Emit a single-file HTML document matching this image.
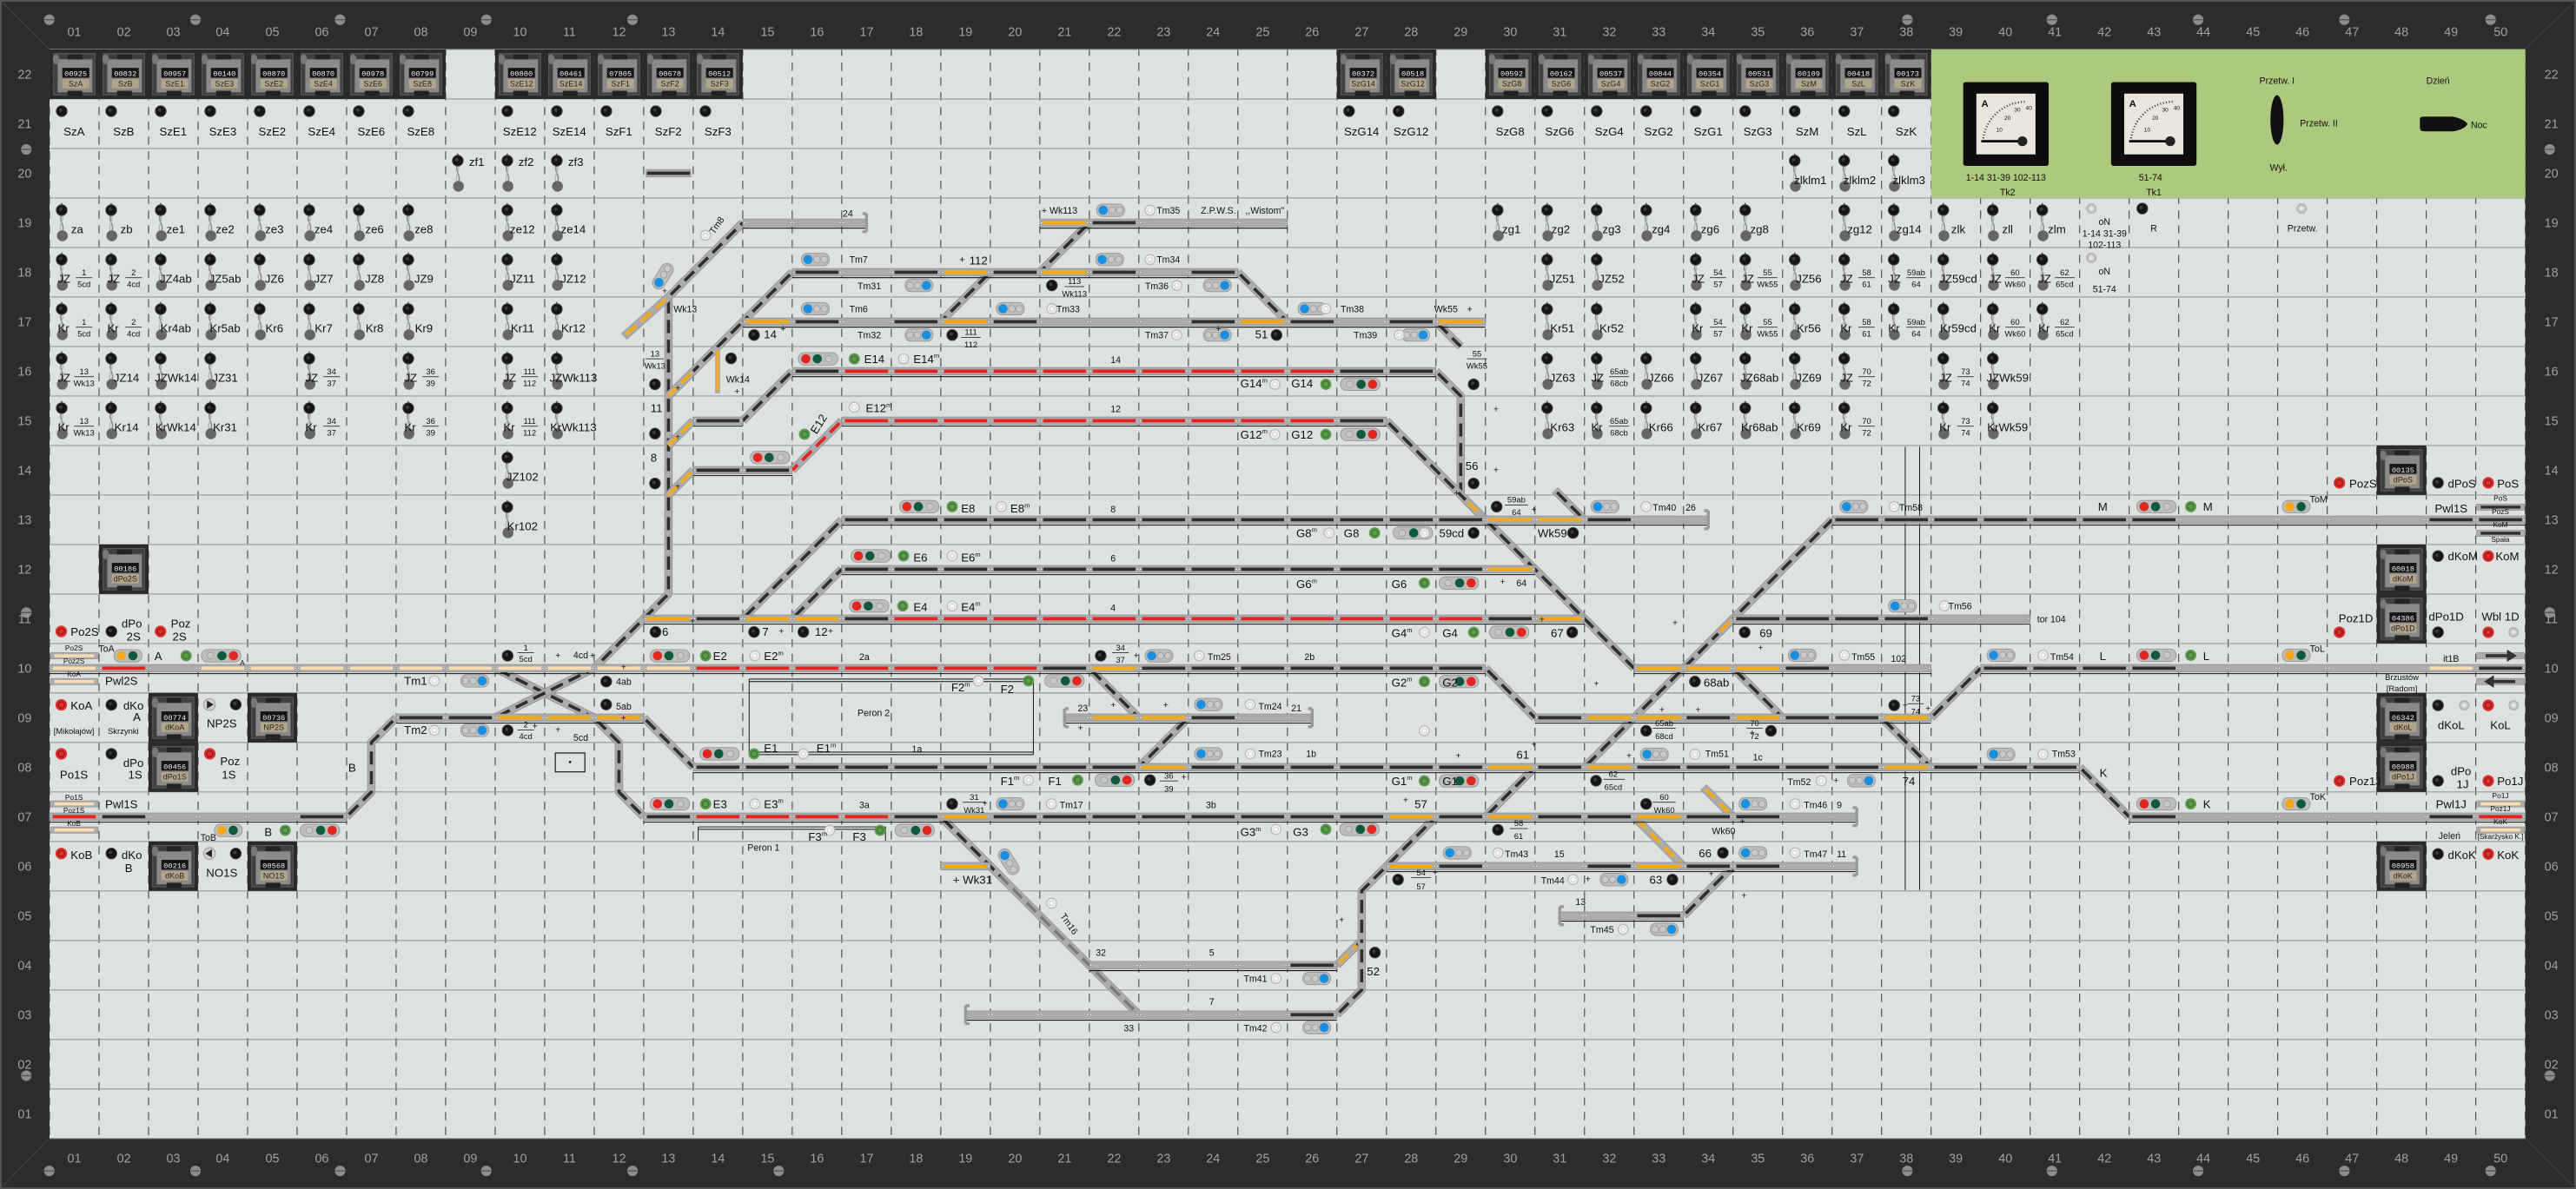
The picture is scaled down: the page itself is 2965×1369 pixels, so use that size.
<!DOCTYPE html>
<html><head><meta charset="utf-8">
<style>
html,body{margin:0;padding:0;background:#2d2d2d;}
svg{display:block}
text{font-family:"Liberation Sans",sans-serif;fill:#111;}
.c{text-anchor:middle}
.n{font-size:7.6px;fill:#a0a0a0;text-anchor:middle}
.dg{font-family:"Liberation Mono",monospace;font-size:4.6px;fill:#eee;text-anchor:middle}
.cl{font-size:4.8px;fill:#222;text-anchor:middle}
.t{font-size:7px}
.s{font-size:5.6px}
.f{font-size:5px;text-anchor:middle}
.x{font-size:4.4px;text-anchor:middle}
</style></head><body>
<svg id="s" width="2965" height="1369" viewBox="0 0 1568 724" preserveAspectRatio="none" xmlns="http://www.w3.org/2000/svg">
<rect width="1568" height="724" fill="#2c2c2c"/>
<rect x="0.5" y="0.5" width="1567" height="723" fill="none" stroke="#555" stroke-width="1"/>
<line x1="2" y1="2" x2="30" y2="30" stroke="#3d3d3d" stroke-width="0.8"/>
<line x1="1566" y1="2" x2="1537" y2="30" stroke="#3d3d3d" stroke-width="0.8"/>
<line x1="2" y1="722" x2="30" y2="693" stroke="#3d3d3d" stroke-width="0.8"/>
<line x1="1566" y1="722" x2="1537" y2="693" stroke="#3d3d3d" stroke-width="0.8"/>
<rect x="30.14" y="30.14" width="1507" height="663.1" fill="#dde1e0"/>
<g id="grid"></g>
<rect x="1175.46" y="30.14" width="361.7" height="90.42" fill="#adc97e"/>
<g id="trk"></g>
<g id="obj"></g>

<text class="n" y="22"><tspan x="45.2">01</tspan><tspan x="75.4">02</tspan><tspan x="105.5">03</tspan><tspan x="135.6">04</tspan><tspan x="165.8">05</tspan><tspan x="195.9">06</tspan><tspan x="226.1">07</tspan><tspan x="256.2">08</tspan><tspan x="286.3">09</tspan><tspan x="316.5">10</tspan><tspan x="346.6">11</tspan><tspan x="376.8">12</tspan><tspan x="406.9">13</tspan><tspan x="437">14</tspan><tspan x="467.2">15</tspan><tspan x="497.3">16</tspan><tspan x="527.5">17</tspan><tspan x="557.6">18</tspan><tspan x="587.7">19</tspan><tspan x="617.9">20</tspan><tspan x="648">21</tspan><tspan x="678.2">22</tspan><tspan x="708.3">23</tspan><tspan x="738.4">24</tspan><tspan x="768.6">25</tspan><tspan x="798.7">26</tspan><tspan x="828.9">27</tspan><tspan x="859">28</tspan><tspan x="889.1">29</tspan><tspan x="919.3">30</tspan><tspan x="949.4">31</tspan><tspan x="979.6">32</tspan><tspan x="1009.7">33</tspan><tspan x="1039.8">34</tspan><tspan x="1070">35</tspan><tspan x="1100.1">36</tspan><tspan x="1130.3">37</tspan><tspan x="1160.4">38</tspan><tspan x="1190.5">39</tspan><tspan x="1220.7">40</tspan><tspan x="1250.8">41</tspan><tspan x="1281">42</tspan><tspan x="1311.1">43</tspan><tspan x="1341.2">44</tspan><tspan x="1371.4">45</tspan><tspan x="1401.5">46</tspan><tspan x="1431.7">47</tspan><tspan x="1461.8">48</tspan><tspan x="1491.9">49</tspan><tspan x="1522.1">50</tspan></text>
<text class="n" y="708"><tspan x="45.2">01</tspan><tspan x="75.4">02</tspan><tspan x="105.5">03</tspan><tspan x="135.6">04</tspan><tspan x="165.8">05</tspan><tspan x="195.9">06</tspan><tspan x="226.1">07</tspan><tspan x="256.2">08</tspan><tspan x="286.3">09</tspan><tspan x="316.5">10</tspan><tspan x="346.6">11</tspan><tspan x="376.8">12</tspan><tspan x="406.9">13</tspan><tspan x="437">14</tspan><tspan x="467.2">15</tspan><tspan x="497.3">16</tspan><tspan x="527.5">17</tspan><tspan x="557.6">18</tspan><tspan x="587.7">19</tspan><tspan x="617.9">20</tspan><tspan x="648">21</tspan><tspan x="678.2">22</tspan><tspan x="708.3">23</tspan><tspan x="738.4">24</tspan><tspan x="768.6">25</tspan><tspan x="798.7">26</tspan><tspan x="828.9">27</tspan><tspan x="859">28</tspan><tspan x="889.1">29</tspan><tspan x="919.3">30</tspan><tspan x="949.4">31</tspan><tspan x="979.6">32</tspan><tspan x="1009.7">33</tspan><tspan x="1039.8">34</tspan><tspan x="1070">35</tspan><tspan x="1100.1">36</tspan><tspan x="1130.3">37</tspan><tspan x="1160.4">38</tspan><tspan x="1190.5">39</tspan><tspan x="1220.7">40</tspan><tspan x="1250.8">41</tspan><tspan x="1281">42</tspan><tspan x="1311.1">43</tspan><tspan x="1341.2">44</tspan><tspan x="1371.4">45</tspan><tspan x="1401.5">46</tspan><tspan x="1431.7">47</tspan><tspan x="1461.8">48</tspan><tspan x="1491.9">49</tspan><tspan x="1522.1">50</tspan></text>
<text class="n" x="15"><tspan x="15" y="47.9">22</tspan><tspan x="15" y="78">21</tspan><tspan x="15" y="108.2">20</tspan><tspan x="15" y="138.3">19</tspan><tspan x="15" y="168.4">18</tspan><tspan x="15" y="198.6">17</tspan><tspan x="15" y="228.7">16</tspan><tspan x="15" y="258.9">15</tspan><tspan x="15" y="289">14</tspan><tspan x="15" y="319.1">13</tspan><tspan x="15" y="349.3">12</tspan><tspan x="15" y="379.4">11</tspan><tspan x="15" y="409.6">10</tspan><tspan x="15" y="439.7">09</tspan><tspan x="15" y="469.8">08</tspan><tspan x="15" y="500">07</tspan><tspan x="15" y="530.1">06</tspan><tspan x="15" y="560.3">05</tspan><tspan x="15" y="590.4">04</tspan><tspan x="15" y="620.5">03</tspan><tspan x="15" y="650.7">02</tspan><tspan x="15" y="680.8">01</tspan></text>
<text class="n" x="1553"><tspan x="1553" y="47.9">22</tspan><tspan x="1553" y="78">21</tspan><tspan x="1553" y="108.2">20</tspan><tspan x="1553" y="138.3">19</tspan><tspan x="1553" y="168.4">18</tspan><tspan x="1553" y="198.6">17</tspan><tspan x="1553" y="228.7">16</tspan><tspan x="1553" y="258.9">15</tspan><tspan x="1553" y="289">14</tspan><tspan x="1553" y="319.1">13</tspan><tspan x="1553" y="349.3">12</tspan><tspan x="1553" y="379.4">11</tspan><tspan x="1553" y="409.6">10</tspan><tspan x="1553" y="439.7">09</tspan><tspan x="1553" y="469.8">08</tspan><tspan x="1553" y="500">07</tspan><tspan x="1553" y="530.1">06</tspan><tspan x="1553" y="560.3">05</tspan><tspan x="1553" y="590.4">04</tspan><tspan x="1553" y="620.5">03</tspan><tspan x="1553" y="650.7">02</tspan><tspan x="1553" y="680.8">01</tspan></text>

<g id="ctext">
<text class="dg" x="46.1" y="46.4">00925</text><text class="cl" x="46.1" y="52.7">SzA</text>
<text class="dg" x="76.3" y="46.4">00832</text><text class="cl" x="76.3" y="52.7">SzB</text>
<text class="dg" x="106.4" y="46.4">00957</text><text class="cl" x="106.4" y="52.7">SzE1</text>
<text class="dg" x="136.6" y="46.4">00140</text><text class="cl" x="136.6" y="52.7">SzE3</text>
<text class="dg" x="166.7" y="46.4">00870</text><text class="cl" x="166.7" y="52.7">SzE2</text>
<text class="dg" x="196.8" y="46.4">00870</text><text class="cl" x="196.8" y="52.7">SzE4</text>
<text class="dg" x="227" y="46.4">00978</text><text class="cl" x="227" y="52.7">SzE6</text>
<text class="dg" x="257.1" y="46.4">00799</text><text class="cl" x="257.1" y="52.7">SzE8</text>
<text class="dg" x="317.4" y="46.4">00800</text><text class="cl" x="317.4" y="52.7">SzE12</text>
<text class="dg" x="347.5" y="46.4">00461</text><text class="cl" x="347.5" y="52.7">SzE14</text>
<text class="dg" x="377.7" y="46.4">07805</text><text class="cl" x="377.7" y="52.7">SzF1</text>
<text class="dg" x="407.8" y="46.4">00678</text><text class="cl" x="407.8" y="52.7">SzF2</text>
<text class="dg" x="438" y="46.4">00512</text><text class="cl" x="438" y="52.7">SzF3</text>
<text class="dg" x="829.8" y="46.4">00372</text><text class="cl" x="829.8" y="52.7">SzG14</text>
<text class="dg" x="859.9" y="46.4">00518</text><text class="cl" x="859.9" y="52.7">SzG12</text>
<text class="dg" x="920.2" y="46.4">00592</text><text class="cl" x="920.2" y="52.7">SzG8</text>
<text class="dg" x="950.3" y="46.4">00162</text><text class="cl" x="950.3" y="52.7">SzG6</text>
<text class="dg" x="980.5" y="46.4">00537</text><text class="cl" x="980.5" y="52.7">SzG4</text>
<text class="dg" x="1010.6" y="46.4">00844</text><text class="cl" x="1010.6" y="52.7">SzG2</text>
<text class="dg" x="1040.8" y="46.4">00354</text><text class="cl" x="1040.8" y="52.7">SzG1</text>
<text class="dg" x="1070.9" y="46.4">00531</text><text class="cl" x="1070.9" y="52.7">SzG3</text>
<text class="dg" x="1101" y="46.4">00109</text><text class="cl" x="1101" y="52.7">SzM</text>
<text class="dg" x="1131.2" y="46.4">00418</text><text class="cl" x="1131.2" y="52.7">SzL</text>
<text class="dg" x="1161.3" y="46.4">00173</text><text class="cl" x="1161.3" y="52.7">SzK</text>
<text class="dg" x="76.3" y="347.8">00186</text><text class="cl" x="76.3" y="354.1">dPo2S</text>
<text class="dg" x="106.4" y="438.3">00774</text><text class="cl" x="106.4" y="444.6">dKoA</text>
<text class="dg" x="166.7" y="438.3">00736</text><text class="cl" x="166.7" y="444.6">NP2S</text>
<text class="dg" x="106.4" y="468.4">00456</text><text class="cl" x="106.4" y="474.7">dPo1S</text>
<text class="dg" x="106.4" y="528.7">00216</text><text class="cl" x="106.4" y="535">dKoB</text>
<text class="dg" x="166.7" y="528.7">00568</text><text class="cl" x="166.7" y="535">NO1S</text>
<text class="dg" x="1462.7" y="287.6">00135</text><text class="cl" x="1462.7" y="293.9">dPoS</text>
<text class="dg" x="1462.7" y="347.8">00018</text><text class="cl" x="1462.7" y="354.1">dKoM</text>
<text class="dg" x="1462.7" y="378">04386</text><text class="cl" x="1462.7" y="384.3">dPo1D</text>
<text class="dg" x="1462.7" y="438.3">06342</text><text class="cl" x="1462.7" y="444.6">dKoL</text>
<text class="dg" x="1462.7" y="468.4">00988</text><text class="cl" x="1462.7" y="474.7">dPo1J</text>
<text class="dg" x="1462.7" y="528.7">00958</text><text class="cl" x="1462.7" y="535">dKoK</text>
</g>

<g class="t">
<text class="c" y="82.5"><tspan x="45.1">SzA</tspan><tspan x="75.3">SzB</tspan><tspan x="105.4">SzE1</tspan><tspan x="135.6">SzE3</tspan><tspan x="165.7">SzE2</tspan><tspan x="195.8">SzE4</tspan><tspan x="226">SzE6</tspan><tspan x="256.1">SzE8</tspan><tspan x="316.4">SzE12</tspan><tspan x="346.5">SzE14</tspan><tspan x="376.7">SzF1</tspan><tspan x="406.8">SzF2</tspan><tspan x="437">SzF3</tspan><tspan x="828.8">SzG14</tspan><tspan x="858.9">SzG12</tspan><tspan x="919.2">SzG8</tspan><tspan x="949.3">SzG6</tspan><tspan x="979.5">SzG4</tspan><tspan x="1009.6">SzG2</tspan><tspan x="1039.8">SzG1</tspan><tspan x="1069.9">SzG3</tspan><tspan x="1100">SzM</tspan><tspan x="1130.2">SzL</tspan><tspan x="1160.3">SzK</tspan></text>
<text y="101"><tspan x="285.5">zf1</tspan><tspan x="315.6">zf2</tspan><tspan x="345.8">zf3</tspan></text>
<text class="c" y="112"><tspan x="1102">zlklm1</tspan><tspan x="1132">zlklm2</tspan><tspan x="1162">zlklm3</tspan></text>
<text class="c" y="142"><tspan x="47">za</tspan><tspan x="77">zb</tspan><tspan x="107">ze1</tspan><tspan x="137">ze2</tspan><tspan x="167">ze3</tspan><tspan x="197">ze4</tspan><tspan x="228">ze6</tspan><tspan x="258">ze8</tspan><tspan x="318">ze12</tspan><tspan x="349">ze14</tspan><tspan x="920">zg1</tspan><tspan x="950">zg2</tspan><tspan x="981">zg3</tspan><tspan x="1011">zg4</tspan><tspan x="1041">zg6</tspan><tspan x="1071">zg8</tspan><tspan x="1132">zg12</tspan><tspan x="1162">zg14</tspan><tspan x="1192">zlk</tspan><tspan x="1222">zll</tspan><tspan x="1252">zlm</tspan></text>
<text class="c" y="172.2"><tspan x="107">JZ4ab</tspan><tspan x="137">JZ5ab</tspan><tspan x="167">JZ6</tspan><tspan x="197">JZ7</tspan><tspan x="228">JZ8</tspan><tspan x="258">JZ9</tspan><tspan x="318">JZ11</tspan><tspan x="349">JZ12</tspan><tspan x="951">JZ51</tspan><tspan x="981">JZ52</tspan><tspan x="1101">JZ56</tspan><tspan x="1192">JZ59cd</tspan></text>
<text class="c" y="202.3"><tspan x="107">Kr4ab</tspan><tspan x="137">Kr5ab</tspan><tspan x="167">Kr6</tspan><tspan x="197">Kr7</tspan><tspan x="228">Kr8</tspan><tspan x="258">Kr9</tspan><tspan x="318">Kr11</tspan><tspan x="349">Kr12</tspan><tspan x="951">Kr51</tspan><tspan x="981">Kr52</tspan><tspan x="1101">Kr56</tspan><tspan x="1192">Kr59cd</tspan></text>
<text class="c" y="232.5"><tspan x="77">JZ14</tspan><tspan x="107">JZWk14</tspan><tspan x="137">JZ31</tspan><tspan x="349">JZWk113</tspan><tspan x="951">JZ63</tspan><tspan x="1011">JZ66</tspan><tspan x="1041">JZ67</tspan><tspan x="1071">JZ68ab</tspan><tspan x="1101">JZ69</tspan><tspan x="1222">JZWk59</tspan></text>
<text class="c" y="262.6"><tspan x="77">Kr14</tspan><tspan x="107">KrWk14</tspan><tspan x="137">Kr31</tspan><tspan x="349">KrWk113</tspan><tspan x="951">Kr63</tspan><tspan x="1011">Kr66</tspan><tspan x="1041">Kr67</tspan><tspan x="1071">Kr68ab</tspan><tspan x="1101">Kr69</tspan><tspan x="1222">KrWk59</tspan></text>
<text class="c" y="292.8" x="318">JZ102</text>
<text class="c" y="322.9" x="318">Kr102</text>
</g>
<g class="t">
<g transform="translate(30.14,150.7)"><text x="5" y="21.5">JZ</text><text class="f" x="21" y="17">1</text><line x1="16" y1="18.4" x2="26" y2="18.4" stroke="#111" stroke-width=".4"/><text class="f" x="21" y="24">5cd</text></g>
<g transform="translate(60.28,150.7)"><text x="5" y="21.5">JZ</text><text class="f" x="21" y="17">2</text><line x1="16" y1="18.4" x2="26" y2="18.4" stroke="#111" stroke-width=".4"/><text class="f" x="21" y="24">4cd</text></g>
<g transform="translate(30.14,180.84)"><text x="5" y="21.5">Kr</text><text class="f" x="21" y="17">1</text><line x1="16" y1="18.4" x2="26" y2="18.4" stroke="#111" stroke-width=".4"/><text class="f" x="21" y="24">5cd</text></g>
<g transform="translate(60.28,180.84)"><text x="5" y="21.5">Kr</text><text class="f" x="21" y="17">2</text><line x1="16" y1="18.4" x2="26" y2="18.4" stroke="#111" stroke-width=".4"/><text class="f" x="21" y="24">4cd</text></g>
<g transform="translate(30.14,210.98)"><text x="5" y="21.5">JZ</text><text class="f" x="21" y="17">13</text><line x1="15" y1="18.4" x2="27" y2="18.4" stroke="#111" stroke-width=".4"/><text class="f" x="21" y="24">Wk13</text></g>
<g transform="translate(30.14,241.12)"><text x="5" y="21.5">Kr</text><text class="f" x="21" y="17">13</text><line x1="15" y1="18.4" x2="27" y2="18.4" stroke="#111" stroke-width=".4"/><text class="f" x="21" y="24">Wk13</text></g>
<g transform="translate(180.84,210.98)"><text x="5" y="21.5">JZ</text><text class="f" x="21" y="17">34</text><line x1="16" y1="18.4" x2="26" y2="18.4" stroke="#111" stroke-width=".4"/><text class="f" x="21" y="24">37</text></g>
<g transform="translate(180.84,241.12)"><text x="5" y="21.5">Kr</text><text class="f" x="21" y="17">34</text><line x1="16" y1="18.4" x2="26" y2="18.4" stroke="#111" stroke-width=".4"/><text class="f" x="21" y="24">37</text></g>
<g transform="translate(241.12,210.98)"><text x="5" y="21.5">JZ</text><text class="f" x="21" y="17">36</text><line x1="16" y1="18.4" x2="26" y2="18.4" stroke="#111" stroke-width=".4"/><text class="f" x="21" y="24">39</text></g>
<g transform="translate(241.12,241.12)"><text x="5" y="21.5">Kr</text><text class="f" x="21" y="17">36</text><line x1="16" y1="18.4" x2="26" y2="18.4" stroke="#111" stroke-width=".4"/><text class="f" x="21" y="24">39</text></g>
<g transform="translate(301.4,210.98)"><text x="5" y="21.5">JZ</text><text class="f" x="21" y="17">111</text><line x1="16" y1="18.4" x2="26" y2="18.4" stroke="#111" stroke-width=".4"/><text class="f" x="21" y="24">112</text></g>
<g transform="translate(301.4,241.12)"><text x="5" y="21.5">Kr</text><text class="f" x="21" y="17">111</text><line x1="16" y1="18.4" x2="26" y2="18.4" stroke="#111" stroke-width=".4"/><text class="f" x="21" y="24">112</text></g>
<g transform="translate(1024.76,150.7)"><text x="5" y="21.5">JZ</text><text class="f" x="21" y="17">54</text><line x1="16" y1="18.4" x2="26" y2="18.4" stroke="#111" stroke-width=".4"/><text class="f" x="21" y="24">57</text></g>
<g transform="translate(1024.76,180.84)"><text x="5" y="21.5">Kr</text><text class="f" x="21" y="17">54</text><line x1="16" y1="18.4" x2="26" y2="18.4" stroke="#111" stroke-width=".4"/><text class="f" x="21" y="24">57</text></g>
<g transform="translate(1054.9,150.7)"><text x="5" y="21.5">JZ</text><text class="f" x="21" y="17">55</text><line x1="15" y1="18.4" x2="27" y2="18.4" stroke="#111" stroke-width=".4"/><text class="f" x="21" y="24">Wk55</text></g>
<g transform="translate(1054.9,180.84)"><text x="5" y="21.5">Kr</text><text class="f" x="21" y="17">55</text><line x1="15" y1="18.4" x2="27" y2="18.4" stroke="#111" stroke-width=".4"/><text class="f" x="21" y="24">Wk55</text></g>
<g transform="translate(1115.18,150.7)"><text x="5" y="21.5">JZ</text><text class="f" x="21" y="17">58</text><line x1="16" y1="18.4" x2="26" y2="18.4" stroke="#111" stroke-width=".4"/><text class="f" x="21" y="24">61</text></g>
<g transform="translate(1115.18,180.84)"><text x="5" y="21.5">Kr</text><text class="f" x="21" y="17">58</text><line x1="16" y1="18.4" x2="26" y2="18.4" stroke="#111" stroke-width=".4"/><text class="f" x="21" y="24">61</text></g>
<g transform="translate(1145.32,150.7)"><text x="4" y="21.5">JZ</text><text class="f" x="21" y="17">59ab</text><line x1="15" y1="18.4" x2="27" y2="18.4" stroke="#111" stroke-width=".4"/><text class="f" x="21" y="24">64</text></g>
<g transform="translate(1145.32,180.84)"><text x="4" y="21.5">Kr</text><text class="f" x="21" y="17">59ab</text><line x1="15" y1="18.4" x2="27" y2="18.4" stroke="#111" stroke-width=".4"/><text class="f" x="21" y="24">64</text></g>
<g transform="translate(1205.6,150.7)"><text x="5" y="21.5">JZ</text><text class="f" x="21" y="17">60</text><line x1="15" y1="18.4" x2="27" y2="18.4" stroke="#111" stroke-width=".4"/><text class="f" x="21" y="24">Wk60</text></g>
<g transform="translate(1205.6,180.84)"><text x="5" y="21.5">Kr</text><text class="f" x="21" y="17">60</text><line x1="15" y1="18.4" x2="27" y2="18.4" stroke="#111" stroke-width=".4"/><text class="f" x="21" y="24">Wk60</text></g>
<g transform="translate(1235.74,150.7)"><text x="5" y="21.5">JZ</text><text class="f" x="21" y="17">62</text><line x1="15" y1="18.4" x2="27" y2="18.4" stroke="#111" stroke-width=".4"/><text class="f" x="21" y="24">65cd</text></g>
<g transform="translate(1235.74,180.84)"><text x="5" y="21.5">Kr</text><text class="f" x="21" y="17">62</text><line x1="15" y1="18.4" x2="27" y2="18.4" stroke="#111" stroke-width=".4"/><text class="f" x="21" y="24">65cd</text></g>
<g transform="translate(964.48,210.98)"><text x="4" y="21.5">JZ</text><text class="f" x="21" y="17">65ab</text><line x1="15" y1="18.4" x2="27" y2="18.4" stroke="#111" stroke-width=".4"/><text class="f" x="21" y="24">68cb</text></g>
<g transform="translate(964.48,241.12)"><text x="4" y="21.5">Kr</text><text class="f" x="21" y="17">65ab</text><line x1="15" y1="18.4" x2="27" y2="18.4" stroke="#111" stroke-width=".4"/><text class="f" x="21" y="24">68cb</text></g>
<g transform="translate(1115.18,210.98)"><text x="5" y="21.5">JZ</text><text class="f" x="21" y="17">70</text><line x1="16" y1="18.4" x2="26" y2="18.4" stroke="#111" stroke-width=".4"/><text class="f" x="21" y="24">72</text></g>
<g transform="translate(1115.18,241.12)"><text x="5" y="21.5">Kr</text><text class="f" x="21" y="17">70</text><line x1="16" y1="18.4" x2="26" y2="18.4" stroke="#111" stroke-width=".4"/><text class="f" x="21" y="24">72</text></g>
<g transform="translate(1175.46,210.98)"><text x="5" y="21.5">JZ</text><text class="f" x="21" y="17">73</text><line x1="16" y1="18.4" x2="26" y2="18.4" stroke="#111" stroke-width=".4"/><text class="f" x="21" y="24">74</text></g>
<g transform="translate(1175.46,241.12)"><text x="5" y="21.5">Kr</text><text class="f" x="21" y="17">73</text><line x1="16" y1="18.4" x2="26" y2="18.4" stroke="#111" stroke-width=".4"/><text class="f" x="21" y="24">74</text></g>
</g>
<g class="s">
<text class="c" x="1281" y="137">oN</text><text class="c" x="1281" y="144">1-14  31-39</text><text class="c" x="1281" y="151">102-113</text>
<text class="c" x="1281" y="167">oN</text><text class="c" x="1281" y="178">51-74</text>
<text class="c" x="1311" y="141">R</text>
<text class="c" x="1401.5" y="141">Przetw.</text>
</g>
<g>
<rect x="1195" y="50" width="52" height="51" rx="1.5" fill="#0d0d0d"/>
<rect x="1203" y="57" width="36" height="37" fill="#e9e5dc"/>
<rect x="1285" y="50" width="52" height="51" rx="1.5" fill="#0d0d0d"/>
<rect x="1293" y="57" width="36" height="37" fill="#e9e5dc"/>
<path d="M1207 86 A 26 26 0 0 1 1233 62" fill="none" stroke="#222" stroke-width="1.2" stroke-dasharray=".5 1.3"/>
<path d="M1297 86 A 26 26 0 0 1 1323 62" fill="none" stroke="#222" stroke-width="1.2" stroke-dasharray=".5 1.3"/>
<line x1="1206" y1="86" x2="1230" y2="86" stroke="#000" stroke-width="1.5"/><circle cx="1231" cy="86" r="3" fill="#222"/>
<line x1="1296" y1="86" x2="1320" y2="86" stroke="#000" stroke-width="1.5"/><circle cx="1321" cy="86" r="3" fill="#222"/>
<text x="1206" y="65" font-size="6" font-weight="bold">A</text><text x="1296" y="65" font-size="6" font-weight="bold">A</text>
<text x="1215" y="80" font-size="3.5">10</text><text x="1220" y="73" font-size="3.5">20</text><text x="1226" y="68" font-size="3.5">30</text><text x="1233" y="67" font-size="3.5">40</text>
<text x="1305" y="80" font-size="3.5">10</text><text x="1310" y="73" font-size="3.5">20</text><text x="1316" y="68" font-size="3.5">30</text><text x="1323" y="67" font-size="3.5">40</text>
<text class="s c" x="1221" y="110">1-14  31-39  102-113</text>
<text class="s c" x="1222" y="119">Tk2</text>
<text class="s c" x="1309" y="110">51-74</text>
<text class="s c" x="1311" y="119">Tk1</text>
<text class="s c" x="1386" y="51">Przetw. I</text>
<ellipse cx="1386" cy="73" rx="4" ry="15" fill="#111"/>
<text class="s" x="1400" y="77">Przetw. II</text>
<text class="s c" x="1387" y="104">Wył.</text>
<text class="s c" x="1484" y="51">Dzień</text>
<path d="M1473 72 Q1473 71 1476 71 L1493 71 Q1500 72.5 1502 75.5 Q1500 79 1493 80 L1476 80 Q1473 80 1473 78 Z" fill="#111"/>
<text class="s" x="1504" y="78">Noc</text>
</g>

<g class="s">
<text x="430" y="138" transform="rotate(-55 437 136)">Tm8</text>
<text x="513" y="132">24</text>
<text x="634" y="130">+ Wk113</text><text x="704" y="130">Tm35</text><text x="731" y="130">Z.P.W.S.</text><text x="758" y="130">,,Wistom"</text>
<text x="517" y="160">Tm7</text><text x="584" y="160">+</text><text x="590" y="161" class="t">112</text><text x="704" y="160">Tm34</text>
<text x="522" y="176">Tm31</text><text x="697" y="176">Tm36</text>
<text class="f" x="654" y="173">113</text><line x1="648" y1="174.5" x2="660" y2="174.5" stroke="#111" stroke-width=".4"/><text class="f" x="654" y="180.5">Wk113</text>
<text x="517" y="190">Tm6</text><text x="643" y="190">Tm33</text><text x="816" y="190">Tm38</text><text x="873" y="190">Wk55</text><text x="893" y="190">+</text>
<text x="410" y="190">Wk13</text>
<text x="465" y="206" class="t">14</text><text x="475" y="202">+</text><text x="522" y="206">Tm32</text><text x="697" y="206">Tm37</text><text x="740" y="202">+</text><text x="764" y="206" class="t">51</text><text x="824" y="206">Tm39</text>
<text class="f" x="591" y="204">111</text><line x1="585" y1="205.5" x2="597" y2="205.5" stroke="#111" stroke-width=".4"/><text class="f" x="591" y="211.5">112</text>
<text class="f" x="398.7" y="217">13</text><line x1="393" y1="218.5" x2="404" y2="218.5" stroke="#111" stroke-width=".4"/><text class="f" x="398.7" y="224.5">Wk13</text>
<text x="442" y="233">Wk14</text>
<text class="f" x="899" y="217">55</text><line x1="893" y1="218.5" x2="905" y2="218.5" stroke="#111" stroke-width=".4"/><text class="f" x="899" y="224.5">Wk55</text>
<text x="526" y="221" class="t">E14</text><text x="556" y="221" class="t">E14<tspan font-size="4" dy="-3">m</tspan></text><text x="676" y="221">14</text>
<text x="755" y="236" class="t">G14<tspan font-size="4" dy="-3">m</tspan></text><text x="786" y="236" class="t">G14</text>
<text x="396" y="251" class="t">11</text>
<text x="527" y="251" class="t">E12<tspan font-size="4" dy="-3">m</tspan></text><text x="676" y="251">12</text>
<text x="490" y="262" class="t" transform="rotate(-58 496 257)">E12</text>
<text x="755" y="267" class="t">G12<tspan font-size="4" dy="-3">m</tspan></text><text x="786" y="267" class="t">G12</text>
<text x="396" y="281" class="t">8</text><text x="892" y="286" class="t">56</text>
<text x="585" y="312" class="t">E8</text><text x="615" y="312" class="t">E8<tspan font-size="4" dy="-3">m</tspan></text><text x="676" y="312">8</text>
<text class="f" x="923" y="306">59ab</text><line x1="916" y1="307.5" x2="930" y2="307.5" stroke="#111" stroke-width=".4"/><text class="f" x="923" y="313.5">64</text>
<text x="1006" y="311">Tm40</text><text x="1026" y="311">26</text><text x="1156" y="311">Tm58</text><text x="1277" y="311" class="t">M</text><text x="1341" y="311" class="t">M</text>
<text x="789" y="327" class="t">G8<tspan font-size="4" dy="-3">m</tspan></text><text x="818" y="327" class="t">G8</text><text x="876" y="327" class="t">59cd</text><text x="936" y="327" class="t">Wk59</text>
<text x="556" y="342" class="t">E6</text><text x="585" y="342" class="t">E6<tspan font-size="4" dy="-3">m</tspan></text><text x="676" y="342">6</text>
<text x="847" y="358" class="t">G6</text><text x="789" y="358" class="t">G6<tspan font-size="4" dy="-3">m</tspan></text><text x="923" y="357">64</text>
<text x="556" y="372" class="t">E4</text><text x="585" y="372" class="t">E4<tspan font-size="4" dy="-3">m</tspan></text><text x="676" y="372">4</text>
<text x="1186" y="371">Tm56</text><text x="1240" y="379">tor 104</text>
<text x="403" y="387" class="t">6</text><text x="464" y="387" class="t">7</text><text x="496" y="387" class="t">12</text>
<text x="847" y="388" class="t">G4<tspan font-size="4" dy="-3">m</tspan></text><text x="878" y="388" class="t">G4</text><text x="944" y="388" class="t">67</text><text x="1071" y="388" class="t">69</text>
<text class="f" x="320" y="396">1</text><line x1="315" y1="397.5" x2="325" y2="397.5" stroke="#111" stroke-width=".4"/><text class="f" x="320" y="403">5cd</text><text x="349" y="401">4cd</text>
<text x="434" y="402" class="t">E2</text><text x="465" y="402" class="t">E2<tspan font-size="4" dy="-3">m</tspan></text><text x="523" y="402">2a</text>
<text class="f" x="682" y="396">34</text><line x1="677" y1="397.5" x2="687" y2="397.5" stroke="#111" stroke-width=".4"/><text class="f" x="682" y="403.5">37</text>
<text x="735" y="402">Tm25</text><text x="794" y="402">2b</text><text x="1127" y="402">Tm55</text><text x="1151" y="403">102</text><text x="1248" y="402">Tm54</text><text x="1278" y="402" class="t">L</text><text x="1341" y="402" class="t">L</text>
<text x="60" y="397">ToA</text><text x="94" y="402" class="t">A</text><text x="146" y="405" font-size="4.4">A</text>
<text x="64" y="417" class="t">Pwl2S</text>
<text x="246" y="417" class="t">Tm1</text><text x="375" y="417">4ab</text><text x="1037" y="418" class="t">68ab</text>
<text x="579" y="421" class="t">F2<tspan font-size="4" dy="-3">m</tspan></text><text x="609" y="422" class="t">F2</text>
<text x="847" y="418" class="t">G2<tspan font-size="4" dy="-3">m</tspan></text><text x="878" y="418" class="t">G2</text>
<text x="375" y="432">5ab</text><text x="656" y="433">23</text><text x="766" y="432">Tm24</text><text x="786" y="433">21</text>
<text class="f" x="1166" y="427">73</text><line x1="1161" y1="428.5" x2="1171" y2="428.5" stroke="#111" stroke-width=".4"/><text class="f" x="1166" y="435">74</text>
<text x="522" y="436">Peron 2</text>
<text x="246" y="447" class="t">Tm2</text>
<text class="f" x="320" y="443">2</text><text x="324" y="444">+</text><line x1="315" y1="444.5" x2="325" y2="444.5" stroke="#111" stroke-width=".4"/><text class="f" x="320" y="450">4cd</text><text x="349" y="451">5cd</text>
<text class="f" x="1013" y="442">65ab</text><line x1="1006" y1="443.5" x2="1020" y2="443.5" stroke="#111" stroke-width=".4"/><text class="f" x="1013" y="450">68cd</text>
<text class="f" x="1068" y="442">70</text><line x1="1063" y1="443.5" x2="1073" y2="443.5" stroke="#111" stroke-width=".4"/><text class="f" x="1068" y="450">72</text>
<text x="465" y="458" class="t">E1</text><text x="497" y="458" class="t">E1<tspan font-size="4" dy="-3">m</tspan></text><text x="555" y="458">1a</text>
<text x="766" y="461">Tm23</text><text x="795" y="461">1b</text><text x="923" y="462" class="t">61</text><text x="1038" y="461">Tm51</text><text x="1067" y="463">1c</text><text x="1249" y="461">Tm53</text>
<text x="212" y="470" class="t">B</text><text x="1278" y="473" class="t">K</text>
<text x="609" y="478" class="t">F1<tspan font-size="4" dy="-3">m</tspan></text><text x="638" y="478" class="t">F1</text>
<text class="f" x="711.5" y="474">36</text><line x1="706" y1="475.5" x2="717" y2="475.5" stroke="#111" stroke-width=".4"/><text class="f" x="711.5" y="482">39</text>
<text x="847" y="478" class="t">G1<tspan font-size="4" dy="-3">m</tspan></text><text x="878" y="478" class="t">G1</text>
<text class="f" x="982" y="473">62</text><line x1="976" y1="474.5" x2="989" y2="474.5" stroke="#111" stroke-width=".4"/><text class="f" x="982" y="481">65cd</text>
<text x="1088" y="478">Tm52</text><text x="1158" y="478" class="t">74</text>
<text x="64" y="492" class="t">Pwl1S</text>
<text x="434" y="492" class="t">E3</text><text x="465" y="492" class="t">E3<tspan font-size="4" dy="-3">m</tspan></text><text x="523" y="492">3a</text>
<text class="f" x="593" y="487">31</text><line x1="586" y1="488.5" x2="600" y2="488.5" stroke="#111" stroke-width=".4"/><text class="f" x="593" y="495">Wk31</text>
<text x="645" y="492">Tm17</text><text x="734" y="492">3b</text><text x="861" y="492" class="t">57</text>
<text class="f" x="1013" y="487">60</text><line x1="1006" y1="488.5" x2="1020" y2="488.5" stroke="#111" stroke-width=".4"/><text class="f" x="1013" y="495">Wk60</text>
<text x="1098" y="492">Tm46</text><text x="1118" y="492">9</text><text x="1341" y="492" class="t">K</text>
<text x="492" y="512" class="t">F3<tspan font-size="4" dy="-3">m</tspan></text><text x="519" y="512" class="t">F3</text>
<text x="755" y="509" class="t">G3<tspan font-size="4" dy="-3">m</tspan></text><text x="787" y="509" class="t">G3</text>
<text class="f" x="924.4" y="503">58</text><line x1="919" y1="504.5" x2="930" y2="504.5" stroke="#111" stroke-width=".4"/><text class="f" x="924.4" y="511">61</text>
<text x="1042" y="508">Wk60</text>
<text x="122" y="512">ToB</text><text x="161" y="509" class="t">B</text>
<text x="455" y="518">Peron 1</text>
<text x="916" y="522">Tm43</text><text x="946" y="522">15</text><text x="1034" y="522" class="t">66</text><text x="1098" y="522">Tm47</text><text x="1118" y="522">11</text>
<text x="580" y="538" class="t">+ Wk31</text>
<text class="f" x="865" y="533">54</text><line x1="859" y1="534.5" x2="871" y2="534.5" stroke="#111" stroke-width=".4"/><text class="f" x="865" y="541.5">57</text>
<text x="938" y="538">Tm44</text><text x="1004" y="538" class="t">63</text>
<text x="959" y="551">13</text><text x="968" y="568">Tm45</text>
<text x="645" y="564" transform="rotate(55 651 561)">Tm16</text>
<text x="667" y="582">32</text><text x="736" y="582">5</text><text x="757" y="598">Tm41</text><text x="832" y="594" class="t">52</text>
<text x="736" y="612">7</text><text x="684" y="628">33</text><text x="757" y="628">Tm42</text>
<text x="43" y="387" class="t">Po2S</text>
<text x="74" y="382" class="t">dPo</text><text x="77" y="390" class="t">2S</text>
<text x="104" y="382" class="t">Poz</text><text x="105" y="390" class="t">2S</text>
<text x="43" y="432" class="t">KoA</text><text x="75" y="432" class="t">dKo</text><text x="81" y="439" class="t">A</text>
<text class="c" x="45" y="447" font-size="5">[Mikołajów]</text><text class="c" x="75" y="447" font-size="5">Skrzynki</text>
<text class="c t" x="135" y="443">NP2S</text>
<text class="c t" x="45" y="474">Po1S</text><text x="75" y="467" class="t">dPo</text><text x="78" y="474" class="t">1S</text>
<text x="134" y="466" class="t">Poz</text><text x="135" y="474" class="t">1S</text>
<text x="43" y="523" class="t">KoB</text><text x="74" y="523" class="t">dKo</text><text x="76" y="531" class="t">B</text>
<text class="c t" x="135" y="534">NO1S</text>
<text class="x" x="45" y="396">Po2S</text><text class="x" x="45" y="404">Poz2S</text><text class="x" x="45" y="412">KoA</text>
<text class="x" x="45" y="487">Po1S</text><text class="x" x="45" y="495">Poz1S</text><text class="x" x="45" y="503">KoB</text>
<text x="1430" y="297" class="t">PozS</text><text x="1490" y="297" class="t">dPoS</text><text x="1520" y="297" class="t">PoS</text>
<text x="1406" y="306">ToM</text><text class="c t" x="1492" y="312">Pwl1S</text>
<text class="x" x="1522" y="305">PoS</text><text class="x" x="1522" y="313">PozS</text><text class="x" x="1522" y="321">KoM</text><text class="x" x="1522" y="330">Spała</text>
<text x="1490" y="341" class="t">dKoM</text><text x="1519" y="341" class="t">KoM</text>
<text class="c t" x="1434" y="379">Poz1D</text><text class="c t" x="1489" y="378">dPo1D</text><text class="c t" x="1522" y="378">Wbl 1D</text>
<text x="1406" y="397">ToL</text><text class="c s" x="1492" y="403">it1B</text>
<text class="c" x="1462" y="414" font-size="5">Brzustów</text><text class="c" x="1462" y="421" font-size="5">[Radom]</text>
<text class="c t" x="1492" y="444">dKoL</text><text class="c t" x="1522" y="444">KoL</text>
<text x="1430" y="478" class="t">Poz1J</text><text class="c t" x="1498" y="472">dPo</text><text class="c t" x="1499" y="480">1J</text><text x="1520" y="478" class="t">Po1J</text>
<text x="1406" y="487">ToK</text><text class="c t" x="1492" y="492">Pwl1J</text>
<text class="x" x="1522" y="486">Po1J</text><text class="x" x="1522" y="494">Poz1J</text><text class="x" x="1522" y="502">KoK</text><text class="x" x="1522" y="511">[Skarżysko K.]</text>
<text class="c s" x="1491" y="511">Jeleń</text>
<text x="1490" y="523" class="t">dKoK</text><text x="1520" y="523" class="t">KoK</text>
</g>
<g font-size="5.5">
<text x="403" y="179">+</text><text x="411" y="238">+</text><text x="411" y="268">+</text><text x="411" y="298">+</text><text x="447" y="240">+</text>
<text x="359" y="401">+</text><text x="338" y="401">+</text><text x="378" y="408">+</text><text x="338" y="446">+</text><text x="378" y="439">+</text>
<text x="474" y="386">+</text><text x="504" y="386">+</text><text x="420" y="380">+</text><text x="690" y="401">+</text><text x="676" y="431">+</text><text x="708" y="431">+</text><text x="656" y="445">+</text>
<text x="719" y="475">+</text><text x="598" y="491">+</text><text x="854" y="489">+</text><text x="872" y="533">+</text><text x="815" y="562">+</text>
<text x="913" y="356">+</text><text x="937" y="379">+</text><text x="932" y="312">+</text><text x="885" y="302">+</text><text x="909" y="251">+</text><text x="909" y="288">+</text>
<text x="1018" y="381">+</text><text x="1070" y="396">+</text><text x="970" y="418">+</text><text x="1032" y="434">+</text><text x="1010" y="434">+</text><text x="1065" y="448">+</text>
<text x="1172" y="433">+</text><text x="932" y="455">+</text><text x="990" y="462">+</text><text x="1059" y="502">+</text><text x="1053" y="532">+</text><text x="1040" y="534">+</text><text x="1060" y="547">+</text>
<text x="886" y="462">+</text><text x="1116" y="477">+</text><text x="1158" y="431">+</text><text x="965" y="537">+</text>
</g>
</svg>
<script>
(function(){
var NS="http://www.w3.org/2000/svg";
function el(p,tag,a){var e=document.createElementNS(NS,tag);for(var k in a)e.setAttribute(k,a[k]);p.appendChild(e);return e;}
var U=30.14,X=function(u){return u*U},Y=function(r){return U*(23.5-r)},TOP=function(r){return U*(23-r)};
var G=document.getElementById('grid'),T=document.getElementById('trk'),O=document.getElementById('obj');
for(var c=1;c<=51;c++)el(G,'line',{x1:X(c),y1:X(1),x2:X(c),y2:X(23),stroke:'#3c3c3c','stroke-width':.55,'stroke-dasharray':'5 4','stroke-dashoffset':1});
for(var r=1;r<=23;r++)el(G,'line',{x1:X(1),y1:X(r),x2:X(51),y2:X(r),stroke:'#9a9a9a','stroke-width':.6});
function sc(x,y){el(G,'circle',{cx:x,cy:y,r:3.2,fill:'#8d8d8d'});el(G,'line',{x1:x-3,y1:y,x2:x+3,y2:y,stroke:'#555','stroke-width':.7});}
[30,119,207,296,385,1161,1249,1338,1427,1516].forEach(function(x){sc(x,12)});
[30,119,207,296,385,474,1161,1249,1338,1427,1516].forEach(function(x){sc(x,713)});
[91,373,655].forEach(function(y){sc(16,y);sc(1552,y);});
[1179,1268,1356,1445,1534].forEach(function(x){sc(x,34);sc(x,117);});
var C={k:'#2e2e2e',r:'#e3211f',o:'#f6a915',w:'#fbdcb5'};
function d(pts,col){var p=pts.map(function(q){return X(q[0]).toFixed(2)+','+Y(q[1]).toFixed(2)}).join(' ');
 el(T,'polyline',{points:p,fill:'none',stroke:'#8e8e8e','stroke-width':5,'stroke-linejoin':'round'});
 el(T,'polyline',{points:p,fill:'none',stroke:'#acacac','stroke-width':4.2,'stroke-linejoin':'round'});
 el(T,'polyline',{points:p,fill:'none',stroke:col||C.k,'stroke-width':1.9,'stroke-dasharray':'8 4','stroke-dashoffset':-2});}
function h(r,a,b,s,ul){var y=Y(r);
 el(T,'rect',{x:X(a),y:y-2.3,width:X(b)-X(a),height:4.6,fill:'#acacac',stroke:'#8a8a8a','stroke-width':.35});
 var k0=Math.floor(a);
 for(var i=0;i<s.length;i++){var ch=s[i];if(C[ch])el(T,'rect',{x:X(k0+i)+2,y:y-1,width:U-4,height:2,fill:C[ch]});}
 for(var k=Math.ceil(a);k<=Math.floor(b);k++){[-0.95,0.95].forEach(function(dd){var xx=X(k)+dd;if(xx>X(a)+.5&&xx<X(b)-.5)el(T,'circle',{cx:xx,cy:y,r:.55,fill:'#fff',stroke:'#666','stroke-width':.2});});}
 if(ul!==false)el(T,'line',{x1:X(a),y1:y+3.3,x2:X(b),y2:y+3.3,stroke:'#111','stroke-width':.55});}
function bump(u,r,dir){var x=X(u),y=Y(r);el(T,'path',{d:'M'+x+' '+(y-5.5)+' L'+x+' '+(y+5.5)+' M'+x+' '+(y-5.5)+' L'+(x-2.5*dir)+' '+(y-5.5)+' M'+x+' '+(y+5.5)+' L'+(x-2.5*dir)+' '+(y+5.5),stroke:'#999',fill:'none','stroke-width':1.8});}
el(T,'line',{x1:1159.7,y1:272,x2:1159.7,y2:542,stroke:'#111','stroke-width':.5});
el(T,'line',{x1:1168.5,y1:272,x2:1168.5,y2:542,stroke:'#111','stroke-width':.5});
var O_=C.o,R_=C.r;
d([[13.5,17.5],[15,19]]);d([[13.5,17.5],[13.5,11.5],[13,11],[12,10]]);
d([[12.6,16.7],[13.5,17.5]],O_);
d([[15,17],[14,16],[13.5,15.5]]);d([[16,18],[15,17]]);d([[25,18],[26,17]]);d([[20,18],[19,17]]);d([[22,19],[21,18]]);
d([[16,16],[15,15]]);d([[14,15],[13.5,14.5]],O_);d([[17,15],[16,14]],R_);d([[14,14],[13.5,13.5]],O_);d([[14,16],[13.5,15.5]],O_);
d([[29,16],[29.5,15.5],[29.5,13.5],[30,13]]);d([[29,17],[29.5,16.5]]);
d([[28,15],[30,13],[33,10]]);d([[29.6,13.4],[30,13]],O_);
d([[15,11],[17,13]]);d([[16,11],[17,12]]);
d([[30,10],[31,9]]);d([[35,10],[36,9]]);d([[38,9],[39,8]]);d([[39,9],[40,10]]);d([[32,8],[37,13]]);d([[34.7,10.7],[35,11]],O_);
d([[22,10],[23,9]]);d([[24,9],[23,8]]);
d([[7,7],[7.5,7.5],[7.5,8.5],[8,9]]);d([[12,9],[12.5,8.5],[12.5,7.5],[13,7]]);d([[13,9],[14,8]]);
d([[10,10],[12,9]]);d([[10,9],[12,10]]);
d([[19,7],[22,4],[23,3]],'#7a7a7a');d([[19,7],[20.2,5.8]]);
d([[27,4],[27.5,4.5],[27.5,5.5],[28,6]]);d([[27,4],[27.4,4.4]],O_);d([[27,3],[27.5,3.5],[27.5,4.5]]);
d([[28,6],[29,7]]);d([[30,7],[31,8]]);d([[33,7],[34,6]],O_);d([[34,5],[35,6]]);d([[42,8],[43,7]]);d([[34.4,7.6],[35,7]],O_);d([[31.4,13.6],[32,13]]);
el(T,'line',{x1:436.8,y1:211.5,x2:436.8,y2:239.6,stroke:'#aaa','stroke-width':3});el(T,'line',{x1:436.8,y1:213,x2:436.8,y2:238,stroke:C.o,'stroke-width':1.5});
h(10,1,30,"wr-wwwwwwwwwwrrrrrrrkokkkkkkk");h(10,33,39,"oook--");h(10,40,51,"kkkk-----wk");
h(7,1,7,"rk---k");h(7,13,37.5,"krrrrkokkkkkkkkokokkokk--");h(7,43,51,"k-----kr");
h(8,14,42,"kkkkkkkkkokkkkkkokokkkkkokkk");
h(9,8,13,"kkooo");h(9,31,39,"kookokko");h(9,21.5,26.5,"-ook--");
h(11,13,32,"okookrrrrrrrrrrrrko");h(11,35,41,"kkkk--");
h(12,17,31,"kkkkkkkkkkkkko");h(13,17,34.5,"kkkkkkkkkkkkkook--");h(13,37,51,"kkkkkkk-----kk");
h(14,14,16,"kk");h(15,14,15,"k");h(15,17,28,"rrrrrrrrrrk");h(16,16,29,"krrrrrrrrrrkk");
h(17,15,30,"ok-kok---kok-ko");h(18,16,25,"k-kokok-k");h(19,15,17.5,"---");h(19,21,26,"ok---");
h(6,28,37.5,"ok--kokk--");h(6,19,20,"o",false);h(5,31.5,34,"--k");h(4,22,27,"----k");h(3,19.5,27,"-------k");
h(20,13.05,13.95,"k",false);
function stub(u,y,col){el(T,'rect',{x:X(u)+.5,y:y-1.9,width:U-1,height:3.8,fill:'#acacac',stroke:'#8a8a8a','stroke-width':.3});el(T,'rect',{x:X(u)+3,y:y-.9,width:U-6,height:1.8,fill:col});}
stub(1,399.3,C.w);stub(1,415,C.w);stub(1,489.5,C.w);stub(1,505.4,C.w);
stub(50,308.8,C.k);stub(50,324.7,C.k);stub(50,489.5,C.w);stub(50,505.4,C.w);
stub(50,399.3,'#acacac');stub(50,415,'#acacac');
el(T,'path',{d:'M1513 398.3 L1526 398.3 L1526 395.5 L1532 399.3 L1526 403 L1526 400.3 L1513 400.3Z',fill:'#333'});
el(T,'path',{d:'M1531 414 L1518 414 L1518 411.2 L1512 415 L1518 418.8 L1518 416 L1531 416Z',fill:'#333'});
bump(17.5,19,1);bump(34.5,13,1);bump(21.5,9,-1);bump(26.5,9,1);bump(37.5,7,1);bump(37.5,6,1);bump(31.5,5,-1);bump(19.5,3,-1);
function ln(x1,y1,x2,y2,w){el(T,'line',{x1:x1,y1:y1,x2:x2,y2:y2,stroke:'#111','stroke-width':w||.5});}
ln(456,413.5,629,413.5);ln(456,415,629,415);ln(456,458,629,458);ln(456,459.5,629,459.5);ln(456,413.5,456,459.5);ln(629,413.5,629,459.5);
ln(425,503.5,539,503.5);ln(425,505,539,505);ln(425,503.5,425,512);ln(539,503.5,539,512);
el(T,'rect',{x:338,y:458.5,width:18,height:11.5,fill:'none',stroke:'#111','stroke-width':.6});el(T,'circle',{cx:347,cy:464,r:.7,fill:'#111'});
function cnt(c,r){var x=X(c),y=TOP(r);
 el(O,'rect',{x:x,y:y,width:U,height:U,fill:'#2a2a2a'});
 el(O,'rect',{x:x+2.5,y:y+2.5,width:U-5,height:U-5,fill:'#3f3f3f',stroke:'#5a5a5a','stroke-width':.6});
 el(O,'rect',{x:x+5,y:y+6,width:U-9,height:U-10,fill:'#8a8a8a',stroke:'#666','stroke-width':.4});
 el(O,'rect',{x:x+7.8,y:y+11.2,width:16.4,height:6,fill:'#151515'});
 el(O,'rect',{x:x+7.8,y:y+18.1,width:16.4,height:5.6,fill:'#b3a58a'});
 el(O,'rect',{x:x+11,y:y+3,width:9,height:3,fill:'#222'});el(O,'rect',{x:x+11,y:y+U-5,width:9,height:3,fill:'#222'});
 el(O,'ellipse',{cx:x+4,cy:y+6,rx:2,ry:3,fill:'#777'});}
[1,2,3,4,5,6,7,8,10,11,12,13,14,27,28,30,31,32,33,34,35,36,37,38].forEach(function(c){cnt(c,22)});
[[2,12],[3,9],[5,9],[3,8],[3,6],[5,6],[48,14],[48,12],[48,11],[48,9],[48,8],[48,6]].forEach(function(q){cnt(q[0],q[1])});
function bk(x,y,r){el(O,'circle',{cx:x,cy:y,r:r||3.3,fill:'#151515',stroke:'#4a4a4a','stroke-width':.5});el(O,'circle',{cx:x-.6,cy:y-.6,r:1.1,fill:'#3a3a3a'});}
function gr(x,y){el(O,'circle',{cx:x,cy:y,r:3.4,fill:'#5e9a4e'});el(O,'circle',{cx:x,cy:y,r:1.9,fill:'none',stroke:'#3f7a35','stroke-width':.8});}
function wr(x,y){el(O,'circle',{cx:x,cy:y,r:3,fill:'#f6f6f6',stroke:'#bdbdbd','stroke-width':.8});el(O,'circle',{cx:x,cy:y,r:1.5,fill:'none',stroke:'#ccc','stroke-width':.5});}
function rd(x,y){el(O,'circle',{cx:x,cy:y,r:3.5,fill:'#d8302c'});el(O,'circle',{cx:x,cy:y,r:1.9,fill:'none',stroke:'#a51815','stroke-width':.8});}
function gy(x,y){el(O,'circle',{cx:x,cy:y,r:2.8,fill:'#c8c8c8',stroke:'#aaa','stroke-width':.6});el(O,'circle',{cx:x,cy:y,r:1.3,fill:'#e6e6e6'});}
function sw(c,r){var x=X(c),y=TOP(r);
 el(O,'path',{d:'M'+(x+7.4)+' '+(y+10)+' C'+(x+5)+' '+(y+14)+' '+(x+10)+' '+(y+16)+' '+(x+7.6)+' '+(y+21),fill:'none',stroke:'#8a8a8a','stroke-width':.8});
 el(O,'path',{d:'M'+(x+7.4)+' '+(y+10)+' C'+(x+9.5)+' '+(y+14)+' '+(x+5)+' '+(y+16)+' '+(x+7)+' '+(y+21),fill:'none',stroke:'#b0b0b0','stroke-width':.6});
 el(O,'circle',{cx:x+7.8,cy:y+23,r:3.3,fill:'#666'});bk(x+7.4,y+7.4);el(O,'line',{x1:x+7.4,y1:y+3,x2:x+7.4,y2:y+4.2,stroke:'#333','stroke-width':.6});}
[1,2,3,4,5,6,7,8,10,11,12,13,14,27,28,30,31,32,33,34,35,36,37,38].forEach(function(c){bk(X(c)+7.4,TOP(21)+7.4)});
[9,10,11,36,37,38].forEach(function(c){sw(c,20)});
[19,18,17].forEach(function(r){[1,2,3,4,5,6,7,8,10,11].forEach(function(c){sw(c,r)})});
[16,15].forEach(function(r){[1,2,3,4,6,8,10,11].forEach(function(c){sw(c,r)})});sw(10,14);sw(10,13);
[30,31,32,33,34,35,37,38,39,40,41].forEach(function(c){sw(c,19)});
[18,17].forEach(function(r){[31,32,34,35,36,37,38,39,40,41].forEach(function(c){sw(c,r)})});
[16,15].forEach(function(r){[31,32,33,34,35,36,37,39,40].forEach(function(c){sw(c,r)})});
gy(1273,127);gy(1273,157);bk(1304,127);gy(1401,127);
function sig(x,y,t,rot){var g=el(O,'g',{transform:'translate('+x+' '+y+')'+(rot?' rotate('+rot+')':'')});
 var w=t[0]=='m'?24:17;el(g,'rect',{x:-w/2,y:-3.8,width:w,height:7.6,rx:3.6,fill:'#bdbdbd',stroke:'#8d8d8d','stroke-width':.4});
 var lamps;
 if(t=='ml')lamps=[[-7.5,'#e0261f'],[-0.5,'#0e5a3a'],[6.5,'#c9c9c9']];
 else if(t=='mr')lamps=[[-6.5,'#c9c9c9'],[0.5,'#0e5a3a'],[7.5,'#e0261f']];
 else if(t=='bl')lamps=[[-4.5,'#1a8fe0'],[1,'#c9c9c9'],[5.5,'#c9c9c9']];
 else if(t=='br')lamps=[[-5.5,'#c9c9c9'],[-1,'#c9c9c9'],[4.5,'#1a8fe0']];
 else lamps=[[-4,'#f5a81a'],[3,'#0e5a3a']];
 lamps.forEach(function(l){var big=l[1]!='#c9c9c9';el(g,'circle',{cx:l[0],cy:0,r:big?2.8:2,fill:l[1],stroke:big?'none':'#999','stroke-width':.4});});}
[[496.3,158,'bl'],[559.4,173.8,'br'],[496.3,188,'bl'],[559.4,204,'br'],[615,188,'bl'],[676,128,'bl'],[675.4,158,'bl'],[741,173.8,'br'],[741,204,'br'],[798.6,188,'bl'],[861.7,204,'br'],
[498,218.5,'ml'],[828,234,'mr'],[828,264.5,'mr'],[468.7,278.6,'ml'],[559.5,308.5,'ml'],[860,324.5,'mr'],[530,338.5,'ml'],[888,355,'mr'],[529,369,'ml'],[918.6,385,'mr'],
[407.7,399.3,'ml'],[648,414.6,'mr'],[705.5,399.3,'bl'],[289,414.6,'br'],[289,444.7,'br'],[735.6,429,'bl'],[438,459,'ml'],[678.5,475,'mr'],[735.6,459,'bl'],[888,415,'mr'],[888,475.5,'mr'],
[407.7,489.5,'ml'],[556.8,505.6,'mr'],[615,489.5,'bl'],[827.5,505,'mr'],[887,519.3,'bl'],[982.5,535.6,'br'],[1067,519.3,'bl'],[1013,565.9,'br'],[801.5,595.8,'br'],[801.5,625.7,'br'],
[977,308.5,'bl'],[1097,399,'bl'],[1158,369,'bl'],[1128.5,308.5,'bl'],[1067,489.5,'bl'],[1133,475.4,'br'],[1218,459.3,'bl'],[1218,399,'bl'],[1007,459.3,'bl'],
[1312.6,308.5,'ml'],[1312.6,399,'ml'],[1312.6,489.5,'ml'],[1397.7,308.5,'og'],[1397.7,399,'og'],[1397.7,489.5,'og'],
[77.9,399.3,'og'],[134.6,399.3,'mr'],[139,505.6,'og'],[194.7,505.6,'mr']].forEach(function(s){sig(s[0],s[1],s[2])});
sig(403.5,168.2,'bl',-58);sig(614,524.7,'bl',58);
[[445,218.2],[398.7,234],[398.7,264],[398.7,294.4],[459,204],[640.3,173.8],[579.6,204],[777,204],[897,234],[897,294.4],[911,308.5],[957.5,324.5],[897,324.5],
[399,384.8],[459,384.8],[489,384.8],[957,385],[1062,385],[670,399.3],[369,415],[369,429],[700,475],[579.6,489.5],[971.5,475.4],[911.8,505.3],[851,535.6],[1048.7,519.3],[1018,535.6],
[836.9,580],[1031.7,415],[1002,445],[1078,445],[1153,429.5],[309,399.3],[309,444.7],[1002,489.5],
[67.8,384.5],[67.8,429.2],[67.8,459],[67.8,519.7],[143.5,429],[143.5,519.7],[1484,294],[1484,338.6],[1484,385],[1484,429.5],[1484,475.5],[1484,520]].forEach(function(p){bk(p[0],p[1])});
[[520,218.5],[807,234],[489.7,264.4],[807,264.5],[579.6,308.5],[836.7,324.5],[550,338.5],[867,355],[549.5,369],[897,385],[429.5,399.3],[626,414.6],[459,459],[656,475],[867,415],[867,475.5],
[429.5,489.5],[535.7,505.6],[807,505],[113.3,399.3],[173.6,505.6],[1333.5,308.5],[1333.5,399],[1333.5,489.5]].forEach(function(p){gr(p[0],p[1])});
[[429.5,143.3],[700,128],[700,158],[716.3,173.8],[640.3,188],[807,188],[716.3,204],[851.7,204],[550,218.5],[776,234],[520,248],[776,264.5],[609.5,308.5],[809,324.5],[579.6,338.5],[867,324.5],
[579.6,369],[867,385],[459.5,399.3],[730,399.3],[264.4,414.6],[264.4,444.7],[595.5,414.6],[761,429],[489,459],[761,459],[626,475],[867,445],[459.5,489.5],[640,489.5],[505,505.6],[776.7,505],
[1002,308.5],[1153,308.5],[1183.5,368.9],[1122.7,399],[1243.6,399],[1031.7,459.3],[1243.6,459.3],[1108.6,475.4],[1092.6,489.5],[911.8,519.3],[1092.6,519.3],[957.5,535.6],[988,565.9],[640.2,550],[776.7,595.8],[776.7,625.7]].forEach(function(p){wr(p[0],p[1])});
[[37.3,384.5],[97.7,384.5],[37.3,429.2],[37.3,459],[127.7,459],[37.3,519.7],[1424,294],[1514.6,294],[1514.6,338.6],[1424,385],[1514.6,385],[1514.6,429.5],[1424,475.5],[1514.6,475.5],[1514.6,520]].forEach(function(p){rd(p[0],p[1])});
gy(1530,385);gy(1500,429.5);gy(1530,429.5);
el(O,'circle',{cx:127.5,cy:429,r:3.6,fill:'#cfcfcf',stroke:'#999','stroke-width':.5});el(O,'path',{d:'M126 426.5 L130 429 L126 431.5Z',fill:'#222'});
el(O,'circle',{cx:127.5,cy:519.7,r:3.6,fill:'#cfcfcf',stroke:'#999','stroke-width':.5});el(O,'path',{d:'M129 517.2 L125 519.7 L129 522.2Z',fill:'#222'});
// bring counter texts above counter graphics
var ct=document.getElementById('ctext');ct.parentNode.appendChild(ct);
})();
</script>
</body></html>
